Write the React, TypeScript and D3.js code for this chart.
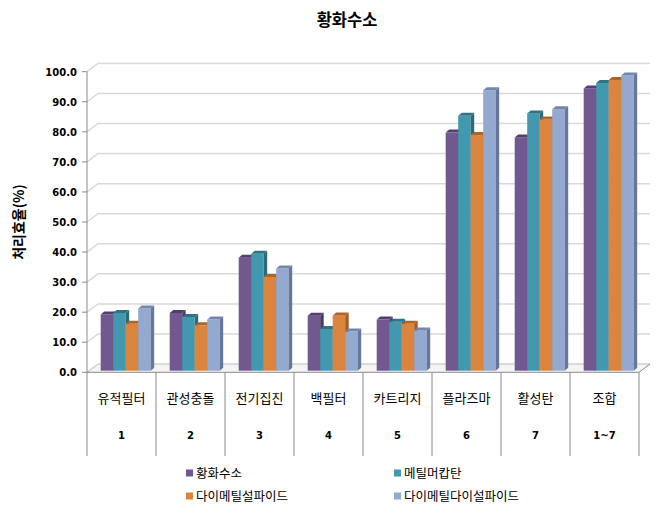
import React from 'react';
import * as d3 from 'd3';

const categories = ['유적필터', '관성충돌', '전기집진', '백필터', '카트리지', '플라즈마', '활성탄', '조합'];
const categoryNumbers = ['1', '2', '3', '4', '5', '6', '7', '1~7'];
const seriesNames = ['황화수소', '메틸머캅탄', '다이메틸설파이드', '다이메틸다이설파이드'];
const h2sValues = [18.7, 19.2, 37.6, 18.3, 17.0, 79.2, 77.6, 93.9];
const methylMercaptanValues = [19.2, 17.9, 38.9, 13.9, 16.3, 84.8, 85.6, 95.7];
const dmsValues = [15.6, 15.1, 31.2, 18.4, 15.6, 78.4, 83.6, 96.7];
const dmdsValues = [20.7, 17.0, 34.0, 13.0, 13.4, 93.3, 87.0, 98.2];
const yTicks = [0, 10, 20, 30, 40, 50, 60, 70, 80, 90, 100];

const seriesValues = [h2sValues, methylMercaptanValues, dmsValues, dmdsValues];
const frontColors = ['#71588F', '#4198AF', '#DB843D', '#93A9CF'];
const topColors = ['#533f6d', '#2f7486', '#b06528', '#7486ab'];
const sideColors = ['#4d3a66', '#2c6a7b', '#a15c24', '#65779a'];

const W = 661;
const H = 519;
const axisX = 87;
const plotRight = 639;
const depthX = 11;
const depthY = 8.3;
const barDX = 3.5;
const barDY = 3;
const barShiftY = 1.6;

export default function App() {
  const x = d3.scaleBand<string>().domain(categories).range([axisX, plotRight]).padding(0);
  const x1 = d3.scaleBand<string>().domain(seriesNames).range([13.7, 63.7]).padding(0);
  const y = d3.scaleLinear().domain([0, 100]).range([372.3, 71.7]);
  const fmt = d3.format('.1f');
  const bw = x1.bandwidth();
  const floorY = y(0);
  const tableBottom = 456;

  return (
    <svg width={W} height={H} style={{ position: 'absolute', left: 0, top: 0, background: '#fff' }}>
      {/* title */}
      <text x={347} y={26} textAnchor="middle" fontFamily="'Noto Sans CJK KR'" fontWeight="bold" fontSize={16.5} fill="#000">
        황화수소
      </text>
      {/* y axis title */}
      <text
        transform={`translate(24,222) rotate(-90)`}
        textAnchor="middle"
        fontFamily="'Noto Sans CJK KR'"
        fontWeight="bold"
        fontSize={14}
        fill="#000"
      >
        처리효율(%)
      </text>

      {/* floor */}
      <polygon
        points={`${axisX},${floorY} ${plotRight},${floorY} ${plotRight + depthX},${floorY - depthY} ${axisX + depthX},${floorY - depthY}`}
        fill="#f4f4f4"
        stroke="none"
      />
      <line x1={axisX + depthX} y1={floorY - depthY} x2={plotRight + depthX} y2={floorY - depthY} stroke="#d0d0d0" strokeWidth={1.5} />
      <line x1={axisX} y1={floorY} x2={axisX + depthX} y2={floorY - depthY} stroke="#d0d0d0" strokeWidth={1.5} />
      <line x1={plotRight} y1={floorY} x2={plotRight + depthX} y2={floorY - depthY} stroke="#8a8a8a" strokeWidth={1} />

      {/* gridlines */}
      {yTicks.filter((t) => t > 0).map((t) => (
        <polyline
          key={`g${t}`}
          points={`${axisX},${y(t)} ${axisX + depthX},${y(t) - depthY} ${plotRight + depthX},${y(t) - depthY}`}
          fill="none"
          stroke="#d9d9d9"
          strokeWidth={1.5}
        />
      ))}

      {/* bars */}
      {categories.map((c, ci) => (
        <g key={c}>
          {seriesNames.map((s, si) => {
            const v = seriesValues[si][ci];
            const x0 = (x(c) as number) + (x1(s) as number);
            const y0 = y(v) - barShiftY;
            const base = y(0) - barShiftY;
            return (
              <g key={s}>
                <rect x={x0} y={y0} width={bw} height={base - y0} fill={frontColors[si]} />
                <polygon
                  points={`${x0},${y0} ${x0 + barDX},${y0 - barDY} ${x0 + bw + barDX},${y0 - barDY} ${x0 + bw},${y0}`}
                  fill={topColors[si]}
                />
                <polygon
                  points={`${x0 + bw},${y0} ${x0 + bw + barDX},${y0 - barDY} ${x0 + bw + barDX},${base - barDY} ${x0 + bw},${base}`}
                  fill={sideColors[si]}
                />
              </g>
            );
          })}
        </g>
      ))}

      {/* floor front edge */}
      <line x1={axisX} y1={floorY} x2={plotRight} y2={floorY} stroke="#8a8a8a" strokeWidth={1} />

      {/* y axis */}
      <line x1={axisX} y1={y(100)} x2={axisX} y2={tableBottom} stroke="#8a8a8a" strokeWidth={1} />
      {yTicks.map((t) => (
        <g key={`t${t}`}>
          <line x1={axisX - 5} y1={y(t)} x2={axisX} y2={y(t)} stroke="#8a8a8a" strokeWidth={1} />
          <text
            x={axisX - 10}
            y={y(t) + 0.5}
            dy="0.35em"
            textAnchor="end"
            fontFamily="'DejaVu Sans'"
            fontWeight="bold"
            fontSize={10}
            fill="#000"
          >
            {fmt(t)}
          </text>
        </g>
      ))}

      {/* category table */}
      {categories.map((c, ci) => {
        const bx = x(c) as number;
        const cx = bx + x.bandwidth() / 2;
        return (
          <g key={`c${c}`}>
            <line x1={bx + x.bandwidth()} y1={floorY} x2={bx + x.bandwidth()} y2={tableBottom} stroke="#8a8a8a" strokeWidth={1} />
            <text x={cx} y={398} dy="0.35em" textAnchor="middle" fontFamily="'Noto Sans CJK KR'" fontSize={13} fill="#000">
              {c}
            </text>
            <text x={cx} y={435} dy="0.35em" textAnchor="middle" fontFamily="'DejaVu Sans'" fontWeight="bold" fontSize={10} fill="#000">
              {categoryNumbers[ci]}
            </text>
          </g>
        );
      })}

      {/* legend */}
      {seriesNames.map((s, si) => {
        const col = si % 2;
        const row = Math.floor(si / 2);
        const lx = col === 0 ? 186 : 394;
        const ly = row === 0 ? 473 : 496;
        return (
          <g key={`l${s}`}>
            <rect x={lx} y={ly - 3.5} width={7} height={7} fill={frontColors[si]} />
            <text x={lx + 10} y={ly + 1} dy="0.35em" fontFamily="'Noto Sans CJK KR'" fontSize={12.5} fill="#000">
              {s}
            </text>
          </g>
        );
      })}
    </svg>
  );
}
